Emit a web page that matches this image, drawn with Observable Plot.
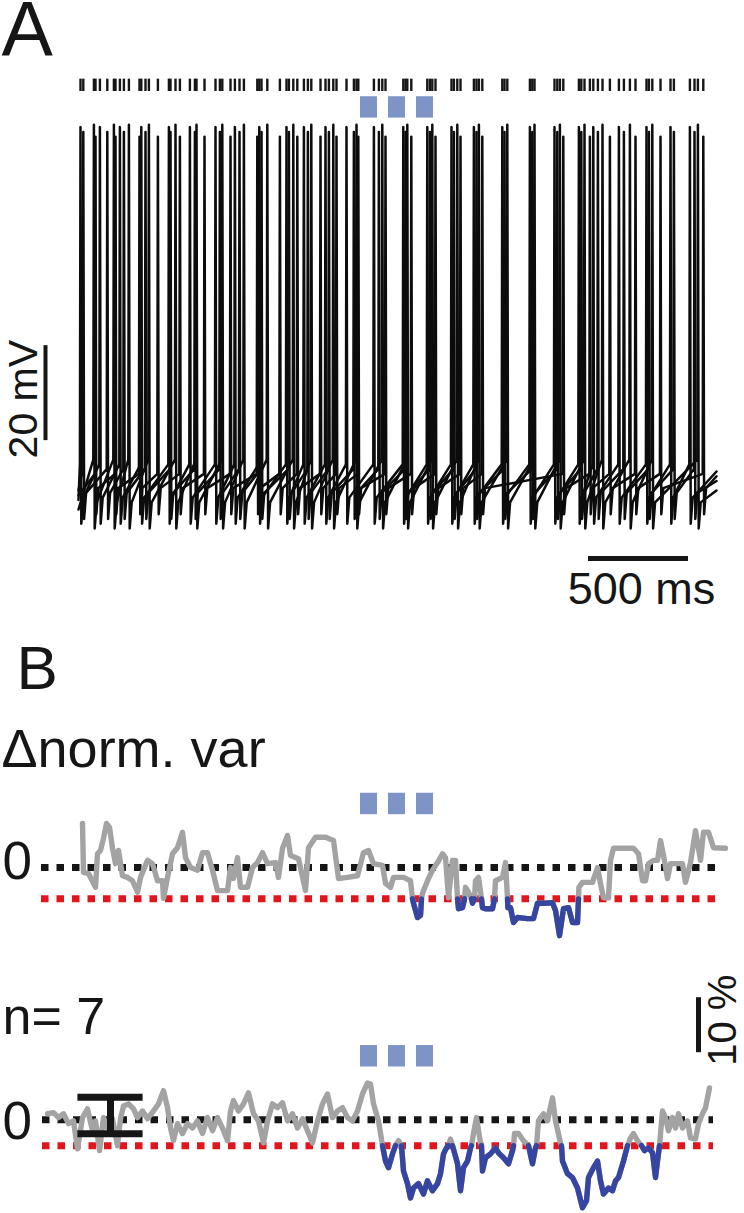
<!DOCTYPE html>
<html><head><meta charset="utf-8">
<script src="https://cdn.jsdelivr.net/npm/d3@7"></script>
<script src="https://cdn.jsdelivr.net/npm/@observablehq/plot@0.6"></script>
<style>
body{margin:0;background:#fff;}
#fig{position:relative;width:744px;height:1213px;overflow:hidden;background:#fff;}
#fig > div{position:absolute;left:0;}
</style></head><body>
<div id="fig"><div id="pa" style="top:0"></div><div id="pb1" style="top:620px"></div><div id="pb2" style="top:950px"></div></div>
<script>
// ---------------- DATA ----------------
// Panel A: spike times (ms) of the four overlaid voltage traces
const trace0Spikes = [10,107,207,314,452,557,685,782,904,1040,1127,1235,1340,1477,1624,1744,1865,1977,2119,2257,2380,2502,2574,2702,2840,2960,3057];
const trace1Spikes = [24,144,227,335,460,582,707,805,915,1052,1147,1252,1377,1502,1635,1757,1877,1990,2130,2269,2394,2514,2597,2727,2852,2977,3080];
const trace2Spikes = [77,177,252,352,485,590,719,827,944,1074,1164,1274,1390,1519,1644,1769,1894,2002,2144,2280,2407,2530,2620,2757,2869,3097];
const trace3Spikes = [85,185,305,397,507,630,760,894,1007,1094,1210,1290,1399,1535,1664,1785,1910,2019,2424,2557,2657,2785,2910,3124];
// per trace: [threshold, peak, AHP trough, rebound] in mV
const traceLevels = [[-54.5,16.5,-67,-61.5],[-55.5,15.5,-66,-60.5],[-53.5,17,-68,-62.5],[-56.5,14.5,-65,-59.5]];
const traceStartV = [-62,-60,-64,-61];
const traceEndV = [-56,-58,-60,-57];
const spikeShapeOffsets = [-3,0,4,14]; // ms relative to spike peak
const recordingEnd = 3190; // ms
// stimulation (blue squares)
const stimOnsets = [1410,1550,1690];
const stimDuration = 85;
// Panel B: normalized variance change (%) vs time (ms)
const b1Trace = [[20,8.0],[25,-0.9],[50,-1.1],[85,-3.6],[95,2.5],[110,3.1],[125,5.3],[140,8.0],[155,7.3],[170,3.5],[185,0.7],[200,3.1],[220,-1.5],[245,-1.8],[270,-2.4],[295,-4.5],[310,-1.8],[345,1.3],[370,0.7],[395,-2.4],[420,-2.4],[425,-5.6],[445,-1.8],[470,2.5],[495,3.6],[520,6.4],[535,1.8],[560,0],[595,-0.5],[620,2.7],[645,2.7],[670,-0.5],[695,-4.2],[745,-4.2],[760,0],[775,-2.0],[795,1.8],[810,-3.6],[845,-3.6],[870,0],[895,0.9],[920,2.7],[945,0.7],[985,0.9],[1000,-1.8],[1020,3.5],[1045,5.8],[1060,2.2],[1100,1.6],[1135,-4.2],[1150,3.6],[1185,5.5],[1235,5.5],[1275,4.9],[1300,-2.0],[1345,-1.8],[1395,-1.5],[1425,2.7],[1450,3.1],[1475,0.7],[1520,0.4],[1535,-2.9],[1560,-3.6],[1575,-1.8],[1625,-1.8],[1660,-2.4],[1670,-5.7],[1675,-6.5],[1695,-9.1],[1710,-8.7],[1715,-5.7],[1720,-4.7],[1745,-2.4],[1770,-0.5],[1795,0.9],[1820,2.5],[1835,1.8],[1850,-5.5],[1870,1.3],[1885,1.3],[1895,-5.7],[1900,-7.5],[1920,-7.3],[1930,-5.7],[1935,-3.6],[1950,-4.5],[1965,-5.7],[1970,-6.5],[1980,-5.7],[1985,-2.4],[2000,-1.8],[2015,-5.7],[2020,-7.3],[2035,-7.5],[2070,-7.5],[2080,-5.7],[2085,-2.4],[2120,-1.8],[2135,0.9],[2145,-5.7],[2147,-7.3],[2160,-7.3],[2175,-10.0],[2195,-9.1],[2245,-9.3],[2275,-9.3],[2295,-6.5],[2325,-6.5],[2370,-6.4],[2385,-7.8],[2405,-12.4],[2425,-7.5],[2450,-7.3],[2470,-10.0],[2495,-10.0],[2500,-5.7],[2502,-3.6],[2520,-2.7],[2570,-2.7],[2595,0],[2610,-2.9],[2625,-5.5],[2650,-5.5],[2660,1.3],[2675,3.5],[2725,3.5],[2775,3.5],[2800,2.5],[2820,-2.4],[2835,-2.4],[2850,0.7],[2875,1.3],[2895,1.3],[2910,4.9],[2925,2.2],[2945,-2.0],[2960,0.7],[3020,0.7],[3035,-2.7],[3060,0.9],[3085,6.7],[3110,1.3],[3125,6.4],[3150,6.4],[3175,3.6],[3235,3.5]];
const b1Threshold = -5.7;
const b2Trace = [[-155,1.1],[-125,1.3],[-100,0.4],[-75,1.1],[-50,-0.7],[-25,-0.2],[-5,-5.3],[20,0.4],[45,2.0],[70,-2.0],[85,-0.2],[105,-5.6],[125,0.4],[145,-1.5],[170,0.2],[195,-4.7],[210,0.2],[225,2.5],[250,2.9],[275,2.0],[295,0.4],[320,1.6],[345,0.2],[375,1.6],[400,2.9],[425,5.3],[445,2.2],[460,-1.5],[475,-3.8],[495,-0.7],[520,-2.5],[545,-0.7],[570,-1.5],[595,-0.2],[620,-2.5],[645,0.4],[670,-2.0],[695,0.4],[720,-1.5],[745,-3.8],[760,1.6],[775,3.5],[800,1.6],[825,2.9],[850,4.9],[875,1.1],[900,-0.2],[925,-4.2],[945,-0.2],[970,2.9],[995,2.2],[1020,3.1],[1045,-0.2],[1070,1.1],[1095,-1.5],[1120,0.2],[1145,-2.0],[1170,-4.2],[1195,-0.2],[1220,2.9],[1245,4.7],[1270,0.4],[1295,1.6],[1320,2.2],[1345,0.4],[1370,-0.2],[1395,1.6],[1420,4.7],[1445,6.7],[1460,6.5],[1475,2.9],[1500,-0.2],[1520,-4.7],[1535,-7.5],[1550,-8.7],[1570,-6.2],[1585,-4.7],[1600,-3.8],[1615,-4.7],[1625,-9.3],[1645,-11.6],[1660,-14.2],[1675,-12.4],[1700,-11.6],[1725,-13.5],[1745,-11.1],[1770,-12.9],[1795,-11.6],[1810,-9.8],[1825,-6.2],[1840,-5.1],[1850,-4.7],[1860,-3.5],[1870,-4.7],[1895,-8.0],[1910,-12.9],[1925,-8.7],[1945,-7.5],[1960,-5.1],[1965,-4.7],[1975,-2.5],[1990,0.4],[2010,-4.2],[2015,-4.7],[2020,-9.3],[2035,-6.9],[2060,-6.2],[2085,-5.1],[2100,-6.0],[2125,-6.9],[2150,-8.0],[2170,-5.6],[2175,-4.7],[2180,-2.5],[2200,-2.5],[2225,-3.8],[2250,-4.7],[2270,-8.0],[2285,-5.1],[2290,-4.7],[2300,-0.2],[2325,1.1],[2345,-0.2],[2370,4.0],[2385,-0.2],[2410,-4.2],[2415,-4.7],[2420,-7.5],[2445,-9.8],[2470,-10.5],[2495,-12.4],[2520,-16.0],[2540,-14.7],[2550,-10.5],[2575,-8.7],[2595,-7.5],[2610,-11.1],[2625,-13.5],[2650,-12.4],[2670,-12.9],[2685,-11.1],[2700,-10.5],[2725,-7.5],[2745,-4.7],[2760,-3.3],[2775,-2.5],[2795,-3.8],[2815,-4.7],[2830,-5.6],[2850,-5.1],[2870,-6.0],[2885,-10.5],[2895,-7.5],[2905,-4.7],[2920,1.6],[2935,0.4],[2950,-2.0],[2970,0.4],[2985,-1.5],[3000,1.1],[3020,-1.5],[3045,-0.2],[3060,-3.3],[3085,-3.5],[3100,-0.7],[3120,1.1],[3135,2.2],[3155,5.8]];
const b2Threshold = -4.7;
const b2ErrorBar = {t: 160, lo: -2.55, hi: 4.1};
// scale bars
const voltBar = {t: -165, v0: -49.5, len: 20, label: "20 mV"};
const timeBar = {t0: 2550, len: 500, v: -74.3, label: "500 ms"};
const pctBar = {t: 3100, v0: 12.2, len: 10, label: "10 %"};
// texts
const panelLabels = ["A", "B"];
const bTitle = "\u0394norm. var";
const nLabel = "n= 7";

// ---------------- LAYOUT / STYLE ----------------
const FONT = '"Liberation Sans", Arial, Helvetica, sans-serif';
const INK = "#161616", GRAY = "#a3a3a3", BLUE = "#3646a0", STIM = "#7e94c6", RED = "#e2141c";
const xDomain = [-390, 3330]; // ms across the 744 px width
const W = 744;
const commonStyle = {fontFamily: FONT, background: "transparent", overflow: "visible", color: INK};
const stimBoxB = [9.6, 13.5];
const dotted = {strokeWidth: 7, strokeDasharray: "7.5,8"};

// ---------------- PANEL A ----------------
const traceSpikes = [trace0Spikes, trace1Spikes, trace2Spikes, trace3Spikes];
const traceRows = [];
traceSpikes.forEach((spikes, k) => {
  const lv = traceLevels[k];
  traceRows.push({trace: k, t: 0, v: traceStartV[k]});
  for (const s of spikes) spikeShapeOffsets.forEach((o, i) => traceRows.push({trace: k, t: Math.max(0, s + o), v: lv[i]}));
  traceRows.push({trace: k, t: recordingEnd, v: traceEndV[k]});
});
const allSpikes = traceSpikes.flat().sort((a, b) => a - b);

const plotA = Plot.plot({
  width: W, height: 620, margin: 0,
  x: {domain: xDomain, range: [0, W], axis: null},
  y: {domain: [-90, 40], range: [632.5, 15], axis: null},
  style: commonStyle,
  marks: [
    Plot.text([panelLabels[0]], {frameAnchor: "top-left", text: d => d, fontSize: 77, lineAnchor: "top", textAnchor: "start", dx: 1, dy: 1, fill: INK}),
    Plot.ruleX(allSpikes, {x: d => d, y1: 24.0, y2: 26.6, stroke: INK, strokeWidth: 2.4}),
    Plot.rect(stimOnsets, {x1: d => d, x2: d => d + stimDuration, y1: 18.4, y2: 22.9, fill: STIM}),
    Plot.line(traceRows, {x: "t", y: "v", z: "trace", stroke: "#0c0c0c", strokeWidth: 2.5, strokeLinejoin: "round"}),
    Plot.ruleX([voltBar], {x: d => d.t, y1: d => d.v0, y2: d => d.v0 + d.len, stroke: INK, strokeWidth: 4}),
    Plot.text([voltBar], {x: d => d.t, y: d => d.v0 + d.len / 2, text: d => d.label, rotate: -90, fontSize: 41, dx: -22, dy: 6, fill: INK}),
    Plot.ruleY([timeBar], {y: d => d.v, x1: d => d.t0, x2: d => d.t0 + d.len, stroke: INK, strokeWidth: 5}),
    Plot.text([timeBar], {x: d => d.t0 + d.len / 2, y: d => d.v, text: d => d.label, fontSize: 45, lineAnchor: "top", dy: 14, dx: 3, fill: INK})
  ]
});
document.getElementById("pa").append(plotA);

// ---------------- PANEL B ----------------
const sig = (d, thr) => d[1] <= thr + 0.01 && d[0] >= stimOnsets[0];
function panelB({trace, thr, height, yDomain, zeroPx, extraMarks, zeroDy, lineSpan}) {
  const pxPer = 5.5;
  return Plot.plot({
    width: W, height, margin: 0,
    x: {domain: xDomain, range: [0, W], axis: null},
    y: {domain: yDomain, range: [zeroPx - yDomain[0] * pxPer, zeroPx - yDomain[1] * pxPer], axis: null},
    style: commonStyle,
    marks: [
      ...extraMarks.before,
      Plot.rect(stimOnsets, {x1: d => d, x2: d => d + stimDuration, y1: stimBoxB[0], y2: stimBoxB[1], fill: STIM}),
      Plot.ruleY([0], {x1: lineSpan[0], x2: lineSpan[1], stroke: INK, ...dotted}),
      Plot.ruleY([thr], {x1: lineSpan[0], x2: lineSpan[1], stroke: RED, ...dotted}),
      Plot.line(trace, {x: d => d[0], y: d => d[1], stroke: GRAY, strokeWidth: 5.4, strokeLinejoin: "round", strokeLinecap: "round"}),
      Plot.line(trace, {x: d => d[0], y: d => sig(d, thr) ? d[1] : NaN, stroke: BLUE, strokeWidth: 5.4, strokeLinejoin: "round", strokeLinecap: "round"}),
      Plot.text(["0"], {frameAnchor: "left", y: 0, text: d => d, fontSize: 53, textAnchor: "start", dx: 2, dy: zeroDy, fill: INK}),
      ...extraMarks.after
    ]
  });
}

const plotB1 = panelB({
  trace: b1Trace, thr: b1Threshold, height: 330, yDomain: [-20, 44], zeroPx: 247, zeroDy: -5, lineSpan: [-185, 3200],
  extraMarks: {
    before: [
      Plot.text([panelLabels[1]], {frameAnchor: "top-left", text: d => d, fontSize: 62, lineAnchor: "top", textAnchor: "start", dx: 16, dy: 24, fill: INK}),
      Plot.text([bTitle], {frameAnchor: "top-left", text: d => d, fontSize: 54, lineAnchor: "top", textAnchor: "start", dx: 1, dy: 108, fill: INK})
    ],
    after: []
  }
});
document.getElementById("pb1").append(plotB1);

const plotB2 = panelB({
  trace: b2Trace, thr: b2Threshold, height: 263, yDomain: [-17, 31], zeroPx: 169.3, zeroDy: 2, lineSpan: [-180, 3175],
  extraMarks: {
    before: [
      Plot.text([nLabel], {frameAnchor: "top-left", text: d => d, fontSize: 52, lineAnchor: "top", textAnchor: "start", dx: 2, dy: 47, fill: INK})
    ],
    after: [
      Plot.ruleX([b2ErrorBar], {x: d => d.t, y1: d => d.lo, y2: d => d.hi, stroke: INK, strokeWidth: 7}),
      Plot.ruleY([b2ErrorBar.lo, b2ErrorBar.hi], {y: d => d, x1: b2ErrorBar.t - 163, x2: b2ErrorBar.t + 163, stroke: INK, strokeWidth: 7}),
      Plot.ruleX([pctBar], {x: d => d.t, y1: d => d.v0, y2: d => d.v0 + d.len, stroke: INK, strokeWidth: 5}),
      Plot.text([pctBar], {x: d => d.t, y: d => d.v0 + d.len / 2, text: d => d.label, rotate: -90, fontSize: 40, dx: 24.5, dy: -5, fill: INK})
    ]
  }
});
document.getElementById("pb2").append(plotB2);
</script>
</body></html>
